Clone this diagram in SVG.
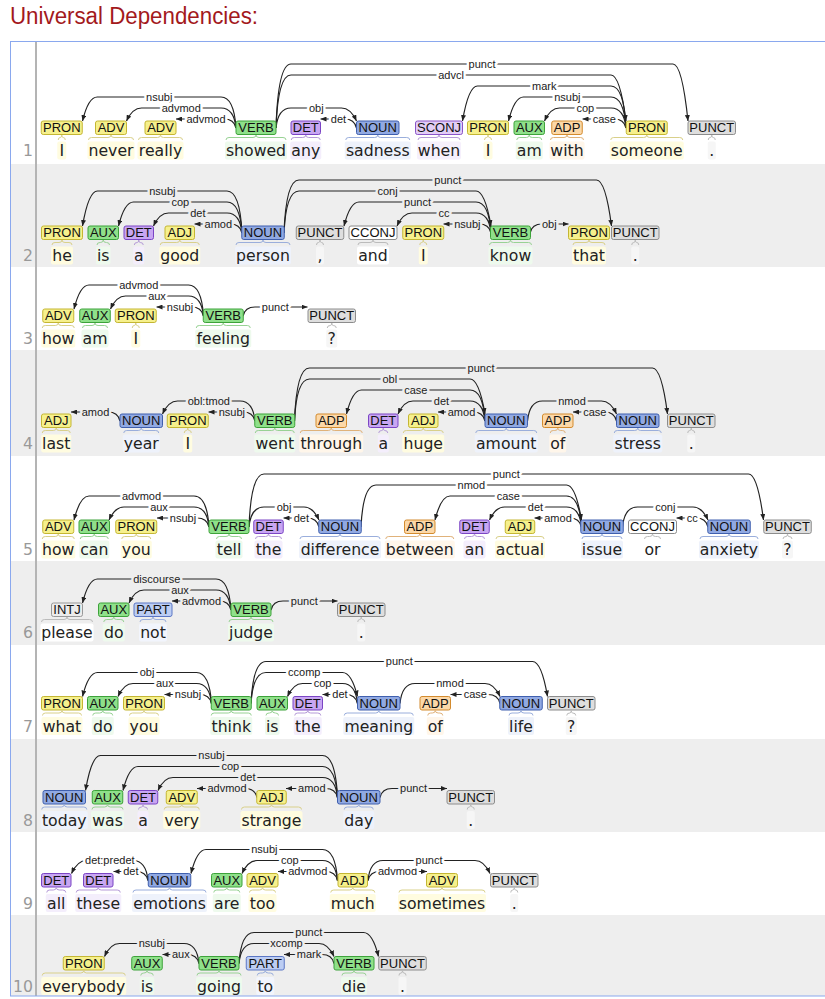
<svg xmlns="http://www.w3.org/2000/svg" width="825" height="999" viewBox="0 0 825 999">
<defs>
<style>
text{font-family:"Liberation Sans",Arial,sans-serif}
.title{font-size:23px;fill:#a3191c}
.wd,.ln{font-family:"DejaVu Sans","Liberation Sans",sans-serif;font-size:15.7px;text-anchor:middle;fill:#222}
.ln{text-anchor:end;fill:#999}
.tl{font-size:13px;text-anchor:middle;fill:#111}
.tag{stroke-width:1}
.br{fill:none;stroke-width:1}
.arcs path{fill:none;stroke:#222;stroke-width:1.2;marker-end:url(#ah)}
.al{font-size:11px;text-anchor:middle;fill:#222;stroke-width:5;stroke-linejoin:round;paint-order:stroke}
.aw .al{stroke:#fff}
.ag .al{stroke:#eee}
.ty .tag{fill:#f6f08c;stroke:#c4b633}.ty .wb{fill:#fffce0}.ty .br{stroke:#d9d08a}
.tg .tag{fill:#8fe08a;stroke:#3da23a}.tg .wb{fill:#eefaed}.tg .br{stroke:#98d294}
.tp .tag{fill:#c8a6f2;stroke:#7b45c4}.tp .wb{fill:#f4eefc}.tp .br{stroke:#b59ad8}
.ts .tag{fill:#e2cdf6;stroke:#8a55c8}.ts .wb{fill:#f6f0fc}.ts .br{stroke:#b59ad8}
.tb .tag{fill:#91a9e2;stroke:#3f5fae}.tb .wb{fill:#eef2fb}.tb .br{stroke:#9aaedc}
.to .tag{fill:#fcd8a8;stroke:#d38b2e}.to .wb{fill:#fff6ea}.to .br{stroke:#e0b27a}
.tk .tag{fill:#dedede;stroke:#8c8c8c}.tk .wb{fill:#f6f6f6}.tk .br{stroke:#bbb}
.tc .tag{fill:#fff;stroke:#8c8c8c}.tc .wb{fill:#fff}.tc .br{stroke:#bbb}
.ti .tag{fill:#ececec;stroke:#999}.ti .wb{fill:#fff}.ti .br{stroke:#bbb}
.tt .tag{fill:#bccdf3;stroke:#5b76c4}.tt .wb{fill:#f2f5fd}.tt .br{stroke:#9aaedc}
</style>
<marker id="ah" viewBox="0 0 6 5" refX="6" refY="2.5" markerWidth="6" markerHeight="5" markerUnits="userSpaceOnUse" orient="auto"><path d="M0,0L6,2.5L0,5Z" fill="#222"/></marker>
</defs>
<rect width="825" height="999" fill="#fff"/>
<text class="title" x="10" y="24" textLength="248" lengthAdjust="spacingAndGlyphs">Universal Dependencies:</text>
<g id="row-bands" fill="#eee">
<rect x="11" y="164" width="814" height="103"/>
<rect x="11" y="350" width="814" height="106"/>
<rect x="11" y="561" width="814" height="84"/>
<rect x="11" y="739" width="814" height="93"/>
<rect x="11" y="915" width="814" height="81"/>
</g>

<!-- dependency arcs -->
<g id="arcs-1" class="arcs aw">
<path d="M236,128Q234,97 221,97L97.3,97Q88.3,97 82.5,121"/><text class="al" x="159.2" y="100.5">nsubj</text>
<path d="M236,128Q234,108 221,108L141.5,108Q132.5,108 126.5,121"/><text class="al" x="181.3" y="111.5">advmod</text>
<path d="M236,128Q234,119 224,119L176,119"/><text class="al" x="206" y="122.5">advmod</text>
<path d="M276,128Q278,108 291,108L341.5,108Q350.5,108 356.5,121"/><text class="al" x="316.3" y="111.5">obj</text>
<path d="M356.5,128Q354.5,119 344.5,119L320.5,119"/><text class="al" x="338.5" y="122.5">det</text>
<path d="M276,128Q278,64 291,64L673,64Q682,64 688,121"/><text class="al" x="482" y="67.5">punct</text>
<path d="M276,128Q278,75 291,75L611,75Q620,75 626,121"/><text class="al" x="451" y="78.5">advcl</text>
<path d="M626,128Q624,86 611,86L477.5,86Q468.5,86 462.5,121"/><text class="al" x="544.3" y="89.5">mark</text>
<path d="M626,128Q624,97 611,97L523.5,97Q514.5,97 508.5,121"/><text class="al" x="567.3" y="100.5">nsubj</text>
<path d="M626,128Q624,108 611,108L559.5,108Q550.5,108 544.5,121"/><text class="al" x="585.3" y="111.5">cop</text>
<path d="M626,128Q624,119 614,119L582.5,119"/><text class="al" x="604.3" y="122.5">case</text>
</g>
<g id="arcs-2" class="arcs ag">
<path d="M242,233Q240,191 227,191L97.5,191Q88.5,191 82.5,226"/><text class="al" x="162.3" y="194.5">nsubj</text>
<path d="M242,233Q240,202 227,202L133.5,202Q124.5,202 118.5,226"/><text class="al" x="180.3" y="205.5">cop</text>
<path d="M242,233Q240,213 227,213L168.5,213Q159.5,213 153.5,226"/><text class="al" x="197.8" y="216.5">det</text>
<path d="M242,233Q240,224 230,224L194.5,224"/><text class="al" x="218.3" y="227.5">amod</text>
<path d="M284,233Q286,180 299,180L596.5,180Q605.5,180 611.5,226"/><text class="al" x="447.8" y="183.5">punct</text>
<path d="M284,233Q286,191 299,191L476,191Q485,191 491,226"/><text class="al" x="387.5" y="194.5">conj</text>
<path d="M491,233Q489,202 476,202L359,202Q350,202 344,226"/><text class="al" x="417.5" y="205.5">punct</text>
<path d="M491,233Q489,213 476,213L412,213Q403,213 397,226"/><text class="al" x="444" y="216.5">cc</text>
<path d="M491,233Q489,224 479,224L443.5,224"/><text class="al" x="467.3" y="227.5">nsubj</text>
<path d="M530,233Q532,224 542,224L568.5,224"/><text class="al" x="549.3" y="227.5">obj</text>
</g>
<g id="arcs-3" class="arcs aw">
<path d="M203.5,316Q201.5,285 188.5,285L89,285Q80,285 74,309"/><text class="al" x="138.8" y="288.5">advmod</text>
<path d="M203.5,316Q201.5,296 188.5,296L125.5,296Q116.5,296 110.5,309"/><text class="al" x="157" y="299.5">aux</text>
<path d="M203.5,316Q201.5,307 191.5,307L156.5,307"/><text class="al" x="180" y="310.5">nsubj</text>
<path d="M243,316Q245,307 255,307L307.5,307"/><text class="al" x="275.3" y="310.5">punct</text>
</g>
<g id="arcs-4" class="arcs ag">
<path d="M120,421Q118,412 108,412L71,412"/><text class="al" x="95.5" y="415.5">amod</text>
<path d="M255,421Q253,401 240,401L177.5,401Q168.5,401 162.5,414"/><text class="al" x="208.8" y="404.5">obl:tmod</text>
<path d="M255,421Q253,412 243,412L208.5,412"/><text class="al" x="231.8" y="415.5">nsubj</text>
<path d="M294.5,421Q296.5,368 309.5,368L652.5,368Q661.5,368 667.5,414"/><text class="al" x="481" y="371.5">punct</text>
<path d="M294.5,421Q296.5,379 309.5,379L470,379Q479,379 485,414"/><text class="al" x="389.8" y="382.5">obl</text>
<path d="M485,421Q483,390 470,390L361.5,390Q352.5,390 346.5,414"/><text class="al" x="415.8" y="393.5">case</text>
<path d="M485,421Q483,401 470,401L413,401Q404,401 398,414"/><text class="al" x="441.5" y="404.5">det</text>
<path d="M485,421Q483,412 473,412L438,412"/><text class="al" x="461.5" y="415.5">amod</text>
<path d="M527.5,421Q529.5,401 542.5,401L601.5,401Q610.5,401 616.5,414"/><text class="al" x="572" y="404.5">nmod</text>
<path d="M616.5,421Q614.5,412 604.5,412L573,412"/><text class="al" x="594.8" y="415.5">case</text>
</g>
<g id="arcs-5" class="arcs aw">
<path d="M209,527Q207,496 194,496L89,496Q80,496 74,520"/><text class="al" x="141.5" y="499.5">advmod</text>
<path d="M209,527Q207,507 194,507L124,507Q115,507 109,520"/><text class="al" x="159" y="510.5">aux</text>
<path d="M209,527Q207,518 197,518L157,518"/><text class="al" x="183" y="521.5">nsubj</text>
<path d="M249,527Q251,507 264,507L304,507Q313,507 319,520"/><text class="al" x="284" y="510.5">obj</text>
<path d="M319,527Q317,518 307,518L283.5,518"/><text class="al" x="301.3" y="521.5">det</text>
<path d="M249,527Q251,474 264,474L748.5,474Q757.5,474 763.5,520"/><text class="al" x="506.3" y="477.5">punct</text>
<path d="M361,527Q363,485 376,485L566.5,485Q575.5,485 581.5,520"/><text class="al" x="471.3" y="488.5">nmod</text>
<path d="M581.5,527Q579.5,496 566.5,496L450,496Q441,496 435,520"/><text class="al" x="508.3" y="499.5">case</text>
<path d="M581.5,527Q579.5,507 566.5,507L504.5,507Q495.5,507 489.5,520"/><text class="al" x="535.5" y="510.5">det</text>
<path d="M581.5,527Q579.5,518 569.5,518L534.5,518"/><text class="al" x="558" y="521.5">amod</text>
<path d="M622.5,527Q624.5,507 637.5,507L693,507Q702,507 708,520"/><text class="al" x="665.3" y="510.5">conj</text>
<path d="M708,527Q706,518 696,518L676.5,518"/><text class="al" x="692.3" y="521.5">cc</text>
</g>
<g id="arcs-6" class="arcs ag">
<path d="M231,610Q229,579 216,579L97.5,579Q88.5,579 82.5,603"/><text class="al" x="156.8" y="582.5">discourse</text>
<path d="M231,610Q229,590 216,590L144,590Q135,590 129,603"/><text class="al" x="180" y="593.5">aux</text>
<path d="M231,610Q229,601 219,601L172,601"/><text class="al" x="201.5" y="604.5">advmod</text>
<path d="M271,610Q273,601 283,601L337.5,601"/><text class="al" x="304.3" y="604.5">punct</text>
</g>
<g id="arcs-7" class="arcs aw">
<path d="M211.5,703.5Q209.5,672.5 196.5,672.5L97.5,672.5Q88.5,672.5 82.5,696.5"/><text class="al" x="147" y="676">obj</text>
<path d="M211.5,703.5Q209.5,683.5 196.5,683.5L133,683.5Q124,683.5 118,696.5"/><text class="al" x="164.8" y="687">aux</text>
<path d="M211.5,703.5Q209.5,694.5 199.5,694.5L164.5,694.5"/><text class="al" x="188" y="698">nsubj</text>
<path d="M251,703.5Q253,661.5 266,661.5L532.5,661.5Q541.5,661.5 547.5,696.5"/><text class="al" x="399.3" y="665">punct</text>
<path d="M251,703.5Q253,672.5 266,672.5L342.5,672.5Q351.5,672.5 357.5,696.5"/><text class="al" x="304.3" y="676">ccomp</text>
<path d="M357.5,703.5Q355.5,683.5 342.5,683.5L302.5,683.5Q293.5,683.5 287.5,696.5"/><text class="al" x="322.5" y="687">cop</text>
<path d="M357.5,703.5Q355.5,694.5 345.5,694.5L322.5,694.5"/><text class="al" x="340" y="698">det</text>
<path d="M400,703.5Q402,683.5 415,683.5L485,683.5Q494,683.5 500,696.5"/><text class="al" x="450" y="687">nmod</text>
<path d="M500,703.5Q498,694.5 488,694.5L450.5,694.5"/><text class="al" x="475.3" y="698">case</text>
</g>
<g id="arcs-8" class="arcs ag">
<path d="M337.5,797.5Q335.5,755.5 322.5,755.5L100.5,755.5Q91.5,755.5 85.5,790.5"/><text class="al" x="211.5" y="759">nsubj</text>
<path d="M337.5,797.5Q335.5,766.5 322.5,766.5L138,766.5Q129,766.5 123,790.5"/><text class="al" x="230.3" y="770">cop</text>
<path d="M337.5,797.5Q335.5,777.5 322.5,777.5L173,777.5Q164,777.5 158,790.5"/><text class="al" x="247.8" y="781">det</text>
<path d="M337.5,797.5Q335.5,788.5 325.5,788.5L286,788.5"/><text class="al" x="311.8" y="792">amod</text>
<path d="M257,797.5Q255,788.5 245,788.5L197,788.5"/><text class="al" x="227" y="792">advmod</text>
<path d="M380,797.5Q382,788.5 392,788.5L447,788.5"/><text class="al" x="413.5" y="792">punct</text>
</g>
<g id="arcs-9" class="arcs aw">
<path d="M148,880.5Q146,860.5 133,860.5L86.5,860.5Q77.5,860.5 71.5,873.5"/><text class="al" x="109.8" y="864">det:predet</text>
<path d="M148,880.5Q146,871.5 136,871.5L113.5,871.5"/><text class="al" x="130.8" y="875">det</text>
<path d="M337.5,880.5Q335.5,849.5 322.5,849.5L206,849.5Q197,849.5 191,873.5"/><text class="al" x="264.3" y="853">nsubj</text>
<path d="M337.5,880.5Q335.5,860.5 322.5,860.5L257,860.5Q248,860.5 242,873.5"/><text class="al" x="289.8" y="864">cop</text>
<path d="M337.5,880.5Q335.5,871.5 325.5,871.5L278,871.5"/><text class="al" x="307.8" y="875">advmod</text>
<path d="M368,880.5Q370,871.5 380,871.5L427,871.5"/><text class="al" x="397.5" y="875">advmod</text>
<path d="M368,880.5Q370,860.5 383,860.5L475,860.5Q484,860.5 490,873.5"/><text class="al" x="429" y="864">punct</text>
</g>
<g id="arcs-10" class="arcs ag">
<path d="M199,963.5Q197,943.5 184,943.5L119.5,943.5Q110.5,943.5 104.5,956.5"/><text class="al" x="151.8" y="947">nsubj</text>
<path d="M199,963.5Q197,954.5 187,954.5L162.5,954.5"/><text class="al" x="180.8" y="958">aux</text>
<path d="M239,963.5Q241,932.5 254,932.5L363.5,932.5Q372.5,932.5 378.5,956.5"/><text class="al" x="308.8" y="936">punct</text>
<path d="M239,963.5Q241,943.5 254,943.5L319,943.5Q328,943.5 334,956.5"/><text class="al" x="286.5" y="947">xcomp</text>
<path d="M334,963.5Q332,954.5 322,954.5L284,954.5"/><text class="al" x="309" y="958">mark</text>
</g>

<!-- sentence 1 -->
<g id="s1-w1" class="ty" transform="translate(61.75,121)"><rect class="wb" x="-4.5" y="20.5" width="9" height="18" rx="2"/><rect class="tag" x="-20.5" width="41" height="13.5" rx="2"/><text class="tl" y="11.3">PRON</text><path class="br" d="M-3.5,19q0,-2.5 2,-2.5q1.5,0 1.5,-2.5q0,2.5 1.5,2.5q2,0 2,2.5"/><text class="wd" y="35">I</text></g>
<g id="s1-w2" class="ty" transform="translate(111,121)"><rect class="wb" x="-23.5" y="20.5" width="47" height="18" rx="2"/><rect class="tag" x="-15.5" width="31" height="13.5" rx="2"/><text class="tl" y="11.3">ADV</text><path class="br" d="M-22.5,19q0,-2.5 3,-2.5H-3q3,0 3,-2.5q0,2.5 3,2.5H19.5q3,0 3,2.5"/><text class="wd" y="35">never</text></g>
<g id="s1-w3" class="ty" transform="translate(160.5,121)"><rect class="wb" x="-23" y="20.5" width="46" height="18" rx="2"/><rect class="tag" x="-15.5" width="31" height="13.5" rx="2"/><text class="tl" y="11.3">ADV</text><path class="br" d="M-22,19q0,-2.5 3,-2.5H-3q3,0 3,-2.5q0,2.5 3,2.5H19q3,0 3,2.5"/><text class="wd" y="35">really</text></g>
<g id="s1-w4" class="tg" transform="translate(256,121)"><rect class="wb" x="-31" y="20.5" width="62" height="18" rx="2"/><rect class="tag" x="-20" width="40" height="13.5" rx="2"/><text class="tl" y="11.3">VERB</text><path class="br" d="M-30,19q0,-2.5 3,-2.5H-3q3,0 3,-2.5q0,2.5 3,2.5H27q3,0 3,2.5"/><text class="wd" y="35">showed</text></g>
<g id="s1-w5" class="tp" transform="translate(305.75,121)"><rect class="wb" x="-15.5" y="20.5" width="31" height="18" rx="2"/><rect class="tag" x="-14.75" width="29.5" height="13.5" rx="2"/><text class="tl" y="11.3">DET</text><path class="br" d="M-14.5,19q0,-2.5 3,-2.5H-3q3,0 3,-2.5q0,2.5 3,2.5H11.5q3,0 3,2.5"/><text class="wd" y="35">any</text></g>
<g id="s1-w6" class="tb" transform="translate(377.75,121)"><rect class="wb" x="-33" y="20.5" width="66" height="18" rx="2"/><rect class="tag" x="-21.25" width="42.5" height="13.5" rx="2"/><text class="tl" y="11.3">NOUN</text><path class="br" d="M-32,19q0,-2.5 3,-2.5H-3q3,0 3,-2.5q0,2.5 3,2.5H29q3,0 3,2.5"/><text class="wd" y="35">sadness</text></g>
<g id="s1-w7" class="ts" transform="translate(439,121)"><rect class="wb" x="-22" y="20.5" width="44" height="18" rx="2"/><rect class="tag" x="-23.5" width="47" height="13.5" rx="2"/><text class="tl" y="11.3">SCONJ</text><path class="br" d="M-21,19q0,-2.5 3,-2.5H-3q3,0 3,-2.5q0,2.5 3,2.5H18q3,0 3,2.5"/><text class="wd" y="35">when</text></g>
<g id="s1-w8" class="ty" transform="translate(488,121)"><rect class="wb" x="-4.5" y="20.5" width="9" height="18" rx="2"/><rect class="tag" x="-20.5" width="41" height="13.5" rx="2"/><text class="tl" y="11.3">PRON</text><path class="br" d="M-3.5,19q0,-2.5 2,-2.5q1.5,0 1.5,-2.5q0,2.5 1.5,2.5q2,0 2,2.5"/><text class="wd" y="35">I</text></g>
<g id="s1-w9" class="tg" transform="translate(529.25,121)"><rect class="wb" x="-13.5" y="20.5" width="27" height="18" rx="2"/><rect class="tag" x="-15.25" width="30.5" height="13.5" rx="2"/><text class="tl" y="11.3">AUX</text><path class="br" d="M-12.5,19q0,-2.5 3,-2.5H-3q3,0 3,-2.5q0,2.5 3,2.5H9.5q3,0 3,2.5"/><text class="wd" y="35">am</text></g>
<g id="s1-w10" class="to" transform="translate(567,121)"><rect class="wb" x="-17.5" y="20.5" width="35" height="18" rx="2"/><rect class="tag" x="-15.25" width="30.5" height="13.5" rx="2"/><text class="tl" y="11.3">ADP</text><path class="br" d="M-16.5,19q0,-2.5 3,-2.5H-3q3,0 3,-2.5q0,2.5 3,2.5H13.5q3,0 3,2.5"/><text class="wd" y="35">with</text></g>
<g id="s1-w11" class="ty" transform="translate(646.75,121)"><rect class="wb" x="-37" y="20.5" width="74" height="18" rx="2"/><rect class="tag" x="-20.5" width="41" height="13.5" rx="2"/><text class="tl" y="11.3">PRON</text><path class="br" d="M-36,19q0,-2.5 3,-2.5H-3q3,0 3,-2.5q0,2.5 3,2.5H33q3,0 3,2.5"/><text class="wd" y="35">someone</text></g>
<g id="s1-w12" class="tk" transform="translate(711.75,121)"><rect class="wb" x="-4" y="20.5" width="8" height="18" rx="2"/><rect class="tag" x="-23.75" width="47.5" height="13.5" rx="2"/><text class="tl" y="11.3">PUNCT</text><path class="br" d="M-3.5,19q0,-2.5 2,-2.5q1.5,0 1.5,-2.5q0,2.5 1.5,2.5q2,0 2,2.5"/><text class="wd" y="35">.</text></g>

<!-- sentence 2 -->
<g id="s2-w1" class="ty" transform="translate(62,226)"><rect class="wb" x="-11" y="20.5" width="22" height="18" rx="2"/><rect class="tag" x="-20.5" width="41" height="13.5" rx="2"/><text class="tl" y="11.3">PRON</text><path class="br" d="M-10,19q0,-2.5 3,-2.5H-3q3,0 3,-2.5q0,2.5 3,2.5H7q3,0 3,2.5"/><text class="wd" y="35">he</text></g>
<g id="s2-w2" class="tg" transform="translate(103.25,226)"><rect class="wb" x="-7.25" y="20.5" width="14.5" height="18" rx="2"/><rect class="tag" x="-15.25" width="30.5" height="13.5" rx="2"/><text class="tl" y="11.3">AUX</text><path class="br" d="M-6.25,19q0,-2.5 3,-2.5H-3q3,0 3,-2.5q0,2.5 3,2.5H3.25q3,0 3,2.5"/><text class="wd" y="35">is</text></g>
<g id="s2-w3" class="tp" transform="translate(138.75,226)"><rect class="wb" x="-5.5" y="20.5" width="11" height="18" rx="2"/><rect class="tag" x="-14.75" width="29.5" height="13.5" rx="2"/><text class="tl" y="11.3">DET</text><path class="br" d="M-4.5,19q0,-2.5 3,-2.5q1.5,0 1.5,-2.5q0,2.5 1.5,2.5q3,0 3,2.5"/><text class="wd" y="35">a</text></g>
<g id="s2-w4" class="ty" transform="translate(179.75,226)"><rect class="wb" x="-20.5" y="20.5" width="41" height="18" rx="2"/><rect class="tag" x="-14.75" width="29.5" height="13.5" rx="2"/><text class="tl" y="11.3">ADJ</text><path class="br" d="M-19.5,19q0,-2.5 3,-2.5H-3q3,0 3,-2.5q0,2.5 3,2.5H16.5q3,0 3,2.5"/><text class="wd" y="35">good</text></g>
<g id="s2-w5" class="tb" transform="translate(263,226)"><rect class="wb" x="-28" y="20.5" width="56" height="18" rx="2"/><rect class="tag" x="-21.25" width="42.5" height="13.5" rx="2"/><text class="tl" y="11.3">NOUN</text><path class="br" d="M-27,19q0,-2.5 3,-2.5H-3q3,0 3,-2.5q0,2.5 3,2.5H24q3,0 3,2.5"/><text class="wd" y="35">person</text></g>
<g id="s2-w6" class="tk" transform="translate(320,226)"><rect class="wb" x="-4" y="20.5" width="8" height="18" rx="2"/><rect class="tag" x="-23.75" width="47.5" height="13.5" rx="2"/><text class="tl" y="11.3">PUNCT</text><path class="br" d="M-3.5,19q0,-2.5 2,-2.5q1.5,0 1.5,-2.5q0,2.5 1.5,2.5q2,0 2,2.5"/><text class="wd" y="35">,</text></g>
<g id="s2-w7" class="tc" transform="translate(373,226)"><rect class="wb" x="-16" y="20.5" width="32" height="18" rx="2"/><rect class="tag" x="-24" width="48" height="13.5" rx="2"/><text class="tl" y="11.3">CCONJ</text><path class="br" d="M-15,19q0,-2.5 3,-2.5H-3q3,0 3,-2.5q0,2.5 3,2.5H12q3,0 3,2.5"/><text class="wd" y="35">and</text></g>
<g id="s2-w8" class="ty" transform="translate(423.25,226)"><rect class="wb" x="-4.5" y="20.5" width="9" height="18" rx="2"/><rect class="tag" x="-20.5" width="41" height="13.5" rx="2"/><text class="tl" y="11.3">PRON</text><path class="br" d="M-3.5,19q0,-2.5 2,-2.5q1.5,0 1.5,-2.5q0,2.5 1.5,2.5q2,0 2,2.5"/><text class="wd" y="35">I</text></g>
<g id="s2-w9" class="tg" transform="translate(510.5,226)"><rect class="wb" x="-22" y="20.5" width="44" height="18" rx="2"/><rect class="tag" x="-20" width="40" height="13.5" rx="2"/><text class="tl" y="11.3">VERB</text><path class="br" d="M-21,19q0,-2.5 3,-2.5H-3q3,0 3,-2.5q0,2.5 3,2.5H18q3,0 3,2.5"/><text class="wd" y="35">know</text></g>
<g id="s2-w10" class="ty" transform="translate(589,226)"><rect class="wb" x="-17" y="20.5" width="34" height="18" rx="2"/><rect class="tag" x="-20.5" width="41" height="13.5" rx="2"/><text class="tl" y="11.3">PRON</text><path class="br" d="M-16,19q0,-2.5 3,-2.5H-3q3,0 3,-2.5q0,2.5 3,2.5H13q3,0 3,2.5"/><text class="wd" y="35">that</text></g>
<g id="s2-w11" class="tk" transform="translate(635.25,226)"><rect class="wb" x="-4" y="20.5" width="8" height="18" rx="2"/><rect class="tag" x="-23.75" width="47.5" height="13.5" rx="2"/><text class="tl" y="11.3">PUNCT</text><path class="br" d="M-3.5,19q0,-2.5 2,-2.5q1.5,0 1.5,-2.5q0,2.5 1.5,2.5q2,0 2,2.5"/><text class="wd" y="35">.</text></g>

<!-- sentence 3 -->
<g id="s3-w1" class="ty" transform="translate(58.25,309)"><rect class="wb" x="-17" y="20.5" width="34" height="18" rx="2"/><rect class="tag" x="-15.5" width="31" height="13.5" rx="2"/><text class="tl" y="11.3">ADV</text><path class="br" d="M-16,19q0,-2.5 3,-2.5H-3q3,0 3,-2.5q0,2.5 3,2.5H13q3,0 3,2.5"/><text class="wd" y="35">how</text></g>
<g id="s3-w2" class="tg" transform="translate(95,309)"><rect class="wb" x="-13.5" y="20.5" width="27" height="18" rx="2"/><rect class="tag" x="-15.25" width="30.5" height="13.5" rx="2"/><text class="tl" y="11.3">AUX</text><path class="br" d="M-12.5,19q0,-2.5 3,-2.5H-3q3,0 3,-2.5q0,2.5 3,2.5H9.5q3,0 3,2.5"/><text class="wd" y="35">am</text></g>
<g id="s3-w3" class="ty" transform="translate(135.75,309)"><rect class="wb" x="-4.5" y="20.5" width="9" height="18" rx="2"/><rect class="tag" x="-20.5" width="41" height="13.5" rx="2"/><text class="tl" y="11.3">PRON</text><path class="br" d="M-3.5,19q0,-2.5 2,-2.5q1.5,0 1.5,-2.5q0,2.5 1.5,2.5q2,0 2,2.5"/><text class="wd" y="35">I</text></g>
<g id="s3-w4" class="tg" transform="translate(223.25,309)"><rect class="wb" x="-28" y="20.5" width="56" height="18" rx="2"/><rect class="tag" x="-20" width="40" height="13.5" rx="2"/><text class="tl" y="11.3">VERB</text><path class="br" d="M-27,19q0,-2.5 3,-2.5H-3q3,0 3,-2.5q0,2.5 3,2.5H24q3,0 3,2.5"/><text class="wd" y="35">feeling</text></g>
<g id="s3-w5" class="tk" transform="translate(331.75,309)"><rect class="wb" x="-5.5" y="20.5" width="11" height="18" rx="2"/><rect class="tag" x="-23.75" width="47.5" height="13.5" rx="2"/><text class="tl" y="11.3">PUNCT</text><path class="br" d="M-4.5,19q0,-2.5 3,-2.5q1.5,0 1.5,-2.5q0,2.5 1.5,2.5q3,0 3,2.5"/><text class="wd" y="35">?</text></g>

<!-- sentence 4 -->
<g id="s4-w1" class="ty" transform="translate(56.25,414)"><rect class="wb" x="-15" y="20.5" width="30" height="18" rx="2"/><rect class="tag" x="-14.75" width="29.5" height="13.5" rx="2"/><text class="tl" y="11.3">ADJ</text><path class="br" d="M-14,19q0,-2.5 3,-2.5H-3q3,0 3,-2.5q0,2.5 3,2.5H11q3,0 3,2.5"/><text class="wd" y="35">last</text></g>
<g id="s4-w2" class="tb" transform="translate(141.25,414)"><rect class="wb" x="-18.5" y="20.5" width="37" height="18" rx="2"/><rect class="tag" x="-21.25" width="42.5" height="13.5" rx="2"/><text class="tl" y="11.3">NOUN</text><path class="br" d="M-17.5,19q0,-2.5 3,-2.5H-3q3,0 3,-2.5q0,2.5 3,2.5H14.5q3,0 3,2.5"/><text class="wd" y="35">year</text></g>
<g id="s4-w3" class="ty" transform="translate(187.75,414)"><rect class="wb" x="-4.5" y="20.5" width="9" height="18" rx="2"/><rect class="tag" x="-20.5" width="41" height="13.5" rx="2"/><text class="tl" y="11.3">PRON</text><path class="br" d="M-3.5,19q0,-2.5 2,-2.5q1.5,0 1.5,-2.5q0,2.5 1.5,2.5q2,0 2,2.5"/><text class="wd" y="35">I</text></g>
<g id="s4-w4" class="tg" transform="translate(274.75,414)"><rect class="wb" x="-20.5" y="20.5" width="41" height="18" rx="2"/><rect class="tag" x="-20" width="40" height="13.5" rx="2"/><text class="tl" y="11.3">VERB</text><path class="br" d="M-19.5,19q0,-2.5 3,-2.5H-3q3,0 3,-2.5q0,2.5 3,2.5H16.5q3,0 3,2.5"/><text class="wd" y="35">went</text></g>
<g id="s4-w5" class="to" transform="translate(331.25,414)"><rect class="wb" x="-32" y="20.5" width="64" height="18" rx="2"/><rect class="tag" x="-15.25" width="30.5" height="13.5" rx="2"/><text class="tl" y="11.3">ADP</text><path class="br" d="M-31,19q0,-2.5 3,-2.5H-3q3,0 3,-2.5q0,2.5 3,2.5H28q3,0 3,2.5"/><text class="wd" y="35">through</text></g>
<g id="s4-w6" class="tp" transform="translate(383.25,414)"><rect class="wb" x="-5.5" y="20.5" width="11" height="18" rx="2"/><rect class="tag" x="-14.75" width="29.5" height="13.5" rx="2"/><text class="tl" y="11.3">DET</text><path class="br" d="M-4.5,19q0,-2.5 3,-2.5q1.5,0 1.5,-2.5q0,2.5 1.5,2.5q3,0 3,2.5"/><text class="wd" y="35">a</text></g>
<g id="s4-w7" class="ty" transform="translate(423.25,414)"><rect class="wb" x="-21" y="20.5" width="42" height="18" rx="2"/><rect class="tag" x="-14.75" width="29.5" height="13.5" rx="2"/><text class="tl" y="11.3">ADJ</text><path class="br" d="M-20,19q0,-2.5 3,-2.5H-3q3,0 3,-2.5q0,2.5 3,2.5H17q3,0 3,2.5"/><text class="wd" y="35">huge</text></g>
<g id="s4-w8" class="tb" transform="translate(506.25,414)"><rect class="wb" x="-31.5" y="20.5" width="63" height="18" rx="2"/><rect class="tag" x="-21.25" width="42.5" height="13.5" rx="2"/><text class="tl" y="11.3">NOUN</text><path class="br" d="M-30.5,19q0,-2.5 3,-2.5H-3q3,0 3,-2.5q0,2.5 3,2.5H27.5q3,0 3,2.5"/><text class="wd" y="35">amount</text></g>
<g id="s4-w9" class="to" transform="translate(557.75,414)"><rect class="wb" x="-8.5" y="20.5" width="17" height="18" rx="2"/><rect class="tag" x="-15.25" width="30.5" height="13.5" rx="2"/><text class="tl" y="11.3">ADP</text><path class="br" d="M-7.5,19q0,-2.5 3,-2.5H-3q3,0 3,-2.5q0,2.5 3,2.5H4.5q3,0 3,2.5"/><text class="wd" y="35">of</text></g>
<g id="s4-w10" class="tb" transform="translate(637.75,414)"><rect class="wb" x="-24.5" y="20.5" width="49" height="18" rx="2"/><rect class="tag" x="-21.25" width="42.5" height="13.5" rx="2"/><text class="tl" y="11.3">NOUN</text><path class="br" d="M-23.5,19q0,-2.5 3,-2.5H-3q3,0 3,-2.5q0,2.5 3,2.5H20.5q3,0 3,2.5"/><text class="wd" y="35">stress</text></g>
<g id="s4-w11" class="tk" transform="translate(691.25,414)"><rect class="wb" x="-4" y="20.5" width="8" height="18" rx="2"/><rect class="tag" x="-23.75" width="47.5" height="13.5" rx="2"/><text class="tl" y="11.3">PUNCT</text><path class="br" d="M-3.5,19q0,-2.5 2,-2.5q1.5,0 1.5,-2.5q0,2.5 1.5,2.5q2,0 2,2.5"/><text class="wd" y="35">.</text></g>

<!-- sentence 5 -->
<g id="s5-w1" class="ty" transform="translate(58.25,520)"><rect class="wb" x="-17" y="20.5" width="34" height="18" rx="2"/><rect class="tag" x="-15.5" width="31" height="13.5" rx="2"/><text class="tl" y="11.3">ADV</text><path class="br" d="M-16,19q0,-2.5 3,-2.5H-3q3,0 3,-2.5q0,2.5 3,2.5H13q3,0 3,2.5"/><text class="wd" y="35">how</text></g>
<g id="s5-w2" class="tg" transform="translate(94.25,520)"><rect class="wb" x="-15" y="20.5" width="30" height="18" rx="2"/><rect class="tag" x="-15.25" width="30.5" height="13.5" rx="2"/><text class="tl" y="11.3">AUX</text><path class="br" d="M-14,19q0,-2.5 3,-2.5H-3q3,0 3,-2.5q0,2.5 3,2.5H11q3,0 3,2.5"/><text class="wd" y="35">can</text></g>
<g id="s5-w3" class="ty" transform="translate(136.25,520)"><rect class="wb" x="-15.5" y="20.5" width="31" height="18" rx="2"/><rect class="tag" x="-20.5" width="41" height="13.5" rx="2"/><text class="tl" y="11.3">PRON</text><path class="br" d="M-14.5,19q0,-2.5 3,-2.5H-3q3,0 3,-2.5q0,2.5 3,2.5H11.5q3,0 3,2.5"/><text class="wd" y="35">you</text></g>
<g id="s5-w4" class="tg" transform="translate(229,520)"><rect class="wb" x="-13.5" y="20.5" width="27" height="18" rx="2"/><rect class="tag" x="-20" width="40" height="13.5" rx="2"/><text class="tl" y="11.3">VERB</text><path class="br" d="M-12.5,19q0,-2.5 3,-2.5H-3q3,0 3,-2.5q0,2.5 3,2.5H9.5q3,0 3,2.5"/><text class="wd" y="35">tell</text></g>
<g id="s5-w5" class="tp" transform="translate(268.5,520)"><rect class="wb" x="-14" y="20.5" width="28" height="18" rx="2"/><rect class="tag" x="-14.75" width="29.5" height="13.5" rx="2"/><text class="tl" y="11.3">DET</text><path class="br" d="M-13,19q0,-2.5 3,-2.5H-3q3,0 3,-2.5q0,2.5 3,2.5H10q3,0 3,2.5"/><text class="wd" y="35">the</text></g>
<g id="s5-w6" class="tb" transform="translate(340,520)"><rect class="wb" x="-41" y="20.5" width="82" height="18" rx="2"/><rect class="tag" x="-21.25" width="42.5" height="13.5" rx="2"/><text class="tl" y="11.3">NOUN</text><path class="br" d="M-40,19q0,-2.5 3,-2.5H-3q3,0 3,-2.5q0,2.5 3,2.5H37q3,0 3,2.5"/><text class="wd" y="35">difference</text></g>
<g id="s5-w7" class="to" transform="translate(419.75,520)"><rect class="wb" x="-35" y="20.5" width="70" height="18" rx="2"/><rect class="tag" x="-15.25" width="30.5" height="13.5" rx="2"/><text class="tl" y="11.3">ADP</text><path class="br" d="M-34,19q0,-2.5 3,-2.5H-3q3,0 3,-2.5q0,2.5 3,2.5H31q3,0 3,2.5"/><text class="wd" y="35">between</text></g>
<g id="s5-w8" class="tp" transform="translate(474.5,520)"><rect class="wb" x="-11" y="20.5" width="22" height="18" rx="2"/><rect class="tag" x="-14.75" width="29.5" height="13.5" rx="2"/><text class="tl" y="11.3">DET</text><path class="br" d="M-10,19q0,-2.5 3,-2.5H-3q3,0 3,-2.5q0,2.5 3,2.5H7q3,0 3,2.5"/><text class="wd" y="35">an</text></g>
<g id="s5-w9" class="ty" transform="translate(520,520)"><rect class="wb" x="-25" y="20.5" width="50" height="18" rx="2"/><rect class="tag" x="-14.75" width="29.5" height="13.5" rx="2"/><text class="tl" y="11.3">ADJ</text><path class="br" d="M-24,19q0,-2.5 3,-2.5H-3q3,0 3,-2.5q0,2.5 3,2.5H21q3,0 3,2.5"/><text class="wd" y="35">actual</text></g>
<g id="s5-w10" class="tb" transform="translate(602,520)"><rect class="wb" x="-21" y="20.5" width="42" height="18" rx="2"/><rect class="tag" x="-21.25" width="42.5" height="13.5" rx="2"/><text class="tl" y="11.3">NOUN</text><path class="br" d="M-20,19q0,-2.5 3,-2.5H-3q3,0 3,-2.5q0,2.5 3,2.5H17q3,0 3,2.5"/><text class="wd" y="35">issue</text></g>
<g id="s5-w11" class="tc" transform="translate(652.5,520)"><rect class="wb" x="-9" y="20.5" width="18" height="18" rx="2"/><rect class="tag" x="-24" width="48" height="13.5" rx="2"/><text class="tl" y="11.3">CCONJ</text><path class="br" d="M-8,19q0,-2.5 3,-2.5H-3q3,0 3,-2.5q0,2.5 3,2.5H5q3,0 3,2.5"/><text class="wd" y="35">or</text></g>
<g id="s5-w12" class="tb" transform="translate(729,520)"><rect class="wb" x="-30" y="20.5" width="60" height="18" rx="2"/><rect class="tag" x="-21.25" width="42.5" height="13.5" rx="2"/><text class="tl" y="11.3">NOUN</text><path class="br" d="M-29,19q0,-2.5 3,-2.5H-3q3,0 3,-2.5q0,2.5 3,2.5H26q3,0 3,2.5"/><text class="wd" y="35">anxiety</text></g>
<g id="s5-w13" class="tk" transform="translate(787.5,520)"><rect class="wb" x="-5.5" y="20.5" width="11" height="18" rx="2"/><rect class="tag" x="-23.75" width="47.5" height="13.5" rx="2"/><text class="tl" y="11.3">PUNCT</text><path class="br" d="M-4.5,19q0,-2.5 3,-2.5q1.5,0 1.5,-2.5q0,2.5 1.5,2.5q3,0 3,2.5"/><text class="wd" y="35">?</text></g>

<!-- sentence 6 -->
<g id="s6-w1" class="ti" transform="translate(67,603)"><rect class="wb" x="-26.5" y="20.5" width="53" height="18" rx="2"/><rect class="tag" x="-15.5" width="31" height="13.5" rx="2"/><text class="tl" y="11.3">INTJ</text><path class="br" d="M-25.5,19q0,-2.5 3,-2.5H-3q3,0 3,-2.5q0,2.5 3,2.5H22.5q3,0 3,2.5"/><text class="wd" y="35">please</text></g>
<g id="s6-w2" class="tg" transform="translate(113.75,603)"><rect class="wb" x="-11" y="20.5" width="22" height="18" rx="2"/><rect class="tag" x="-15.25" width="30.5" height="13.5" rx="2"/><text class="tl" y="11.3">AUX</text><path class="br" d="M-10,19q0,-2.5 3,-2.5H-3q3,0 3,-2.5q0,2.5 3,2.5H7q3,0 3,2.5"/><text class="wd" y="35">do</text></g>
<g id="s6-w3" class="tt" transform="translate(153,603)"><rect class="wb" x="-14" y="20.5" width="28" height="18" rx="2"/><rect class="tag" x="-19" width="38" height="13.5" rx="2"/><text class="tl" y="11.3">PART</text><path class="br" d="M-13,19q0,-2.5 3,-2.5H-3q3,0 3,-2.5q0,2.5 3,2.5H10q3,0 3,2.5"/><text class="wd" y="35">not</text></g>
<g id="s6-w4" class="tg" transform="translate(251,603)"><rect class="wb" x="-23" y="20.5" width="46" height="18" rx="2"/><rect class="tag" x="-20" width="40" height="13.5" rx="2"/><text class="tl" y="11.3">VERB</text><path class="br" d="M-22,19q0,-2.5 3,-2.5H-3q3,0 3,-2.5q0,2.5 3,2.5H19q3,0 3,2.5"/><text class="wd" y="35">judge</text></g>
<g id="s6-w5" class="tk" transform="translate(361.25,603)"><rect class="wb" x="-4" y="20.5" width="8" height="18" rx="2"/><rect class="tag" x="-23.75" width="47.5" height="13.5" rx="2"/><text class="tl" y="11.3">PUNCT</text><path class="br" d="M-3.5,19q0,-2.5 2,-2.5q1.5,0 1.5,-2.5q0,2.5 1.5,2.5q2,0 2,2.5"/><text class="wd" y="35">.</text></g>

<!-- sentence 7 -->
<g id="s7-w1" class="ty" transform="translate(62,696.5)"><rect class="wb" x="-20.5" y="20.5" width="41" height="18" rx="2"/><rect class="tag" x="-20.5" width="41" height="13.5" rx="2"/><text class="tl" y="11.3">PRON</text><path class="br" d="M-19.5,19q0,-2.5 3,-2.5H-3q3,0 3,-2.5q0,2.5 3,2.5H16.5q3,0 3,2.5"/><text class="wd" y="35">what</text></g>
<g id="s7-w2" class="tg" transform="translate(102.75,696.5)"><rect class="wb" x="-11" y="20.5" width="22" height="18" rx="2"/><rect class="tag" x="-15.25" width="30.5" height="13.5" rx="2"/><text class="tl" y="11.3">AUX</text><path class="br" d="M-10,19q0,-2.5 3,-2.5H-3q3,0 3,-2.5q0,2.5 3,2.5H7q3,0 3,2.5"/><text class="wd" y="35">do</text></g>
<g id="s7-w3" class="ty" transform="translate(144,696.5)"><rect class="wb" x="-15.5" y="20.5" width="31" height="18" rx="2"/><rect class="tag" x="-20.5" width="41" height="13.5" rx="2"/><text class="tl" y="11.3">PRON</text><path class="br" d="M-14.5,19q0,-2.5 3,-2.5H-3q3,0 3,-2.5q0,2.5 3,2.5H11.5q3,0 3,2.5"/><text class="wd" y="35">you</text></g>
<g id="s7-w4" class="tg" transform="translate(231.25,696.5)"><rect class="wb" x="-21" y="20.5" width="42" height="18" rx="2"/><rect class="tag" x="-20" width="40" height="13.5" rx="2"/><text class="tl" y="11.3">VERB</text><path class="br" d="M-20,19q0,-2.5 3,-2.5H-3q3,0 3,-2.5q0,2.5 3,2.5H17q3,0 3,2.5"/><text class="wd" y="35">think</text></g>
<g id="s7-w5" class="tg" transform="translate(272.25,696.5)"><rect class="wb" x="-7.25" y="20.5" width="14.5" height="18" rx="2"/><rect class="tag" x="-15.25" width="30.5" height="13.5" rx="2"/><text class="tl" y="11.3">AUX</text><path class="br" d="M-6.25,19q0,-2.5 3,-2.5H-3q3,0 3,-2.5q0,2.5 3,2.5H3.25q3,0 3,2.5"/><text class="wd" y="35">is</text></g>
<g id="s7-w6" class="tp" transform="translate(307.75,696.5)"><rect class="wb" x="-14" y="20.5" width="28" height="18" rx="2"/><rect class="tag" x="-14.75" width="29.5" height="13.5" rx="2"/><text class="tl" y="11.3">DET</text><path class="br" d="M-13,19q0,-2.5 3,-2.5H-3q3,0 3,-2.5q0,2.5 3,2.5H10q3,0 3,2.5"/><text class="wd" y="35">the</text></g>
<g id="s7-w7" class="tb" transform="translate(378.75,696.5)"><rect class="wb" x="-35.5" y="20.5" width="71" height="18" rx="2"/><rect class="tag" x="-21.25" width="42.5" height="13.5" rx="2"/><text class="tl" y="11.3">NOUN</text><path class="br" d="M-34.5,19q0,-2.5 3,-2.5H-3q3,0 3,-2.5q0,2.5 3,2.5H31.5q3,0 3,2.5"/><text class="wd" y="35">meaning</text></g>
<g id="s7-w8" class="to" transform="translate(435.25,696.5)"><rect class="wb" x="-8.5" y="20.5" width="17" height="18" rx="2"/><rect class="tag" x="-15.25" width="30.5" height="13.5" rx="2"/><text class="tl" y="11.3">ADP</text><path class="br" d="M-7.5,19q0,-2.5 3,-2.5H-3q3,0 3,-2.5q0,2.5 3,2.5H4.5q3,0 3,2.5"/><text class="wd" y="35">of</text></g>
<g id="s7-w9" class="tb" transform="translate(521,696.5)"><rect class="wb" x="-13" y="20.5" width="26" height="18" rx="2"/><rect class="tag" x="-21.25" width="42.5" height="13.5" rx="2"/><text class="tl" y="11.3">NOUN</text><path class="br" d="M-12,19q0,-2.5 3,-2.5H-3q3,0 3,-2.5q0,2.5 3,2.5H9q3,0 3,2.5"/><text class="wd" y="35">life</text></g>
<g id="s7-w10" class="tk" transform="translate(571.25,696.5)"><rect class="wb" x="-5.5" y="20.5" width="11" height="18" rx="2"/><rect class="tag" x="-23.75" width="47.5" height="13.5" rx="2"/><text class="tl" y="11.3">PUNCT</text><path class="br" d="M-4.5,19q0,-2.5 3,-2.5q1.5,0 1.5,-2.5q0,2.5 1.5,2.5q3,0 3,2.5"/><text class="wd" y="35">?</text></g>

<!-- sentence 8 -->
<g id="s8-w1" class="tb" transform="translate(64.25,790.5)"><rect class="wb" x="-23.5" y="20.5" width="47" height="18" rx="2"/><rect class="tag" x="-21.25" width="42.5" height="13.5" rx="2"/><text class="tl" y="11.3">NOUN</text><path class="br" d="M-22.5,19q0,-2.5 3,-2.5H-3q3,0 3,-2.5q0,2.5 3,2.5H19.5q3,0 3,2.5"/><text class="wd" y="35">today</text></g>
<g id="s8-w2" class="tg" transform="translate(107.5,790.5)"><rect class="wb" x="-16.5" y="20.5" width="33" height="18" rx="2"/><rect class="tag" x="-15.25" width="30.5" height="13.5" rx="2"/><text class="tl" y="11.3">AUX</text><path class="br" d="M-15.5,19q0,-2.5 3,-2.5H-3q3,0 3,-2.5q0,2.5 3,2.5H12.5q3,0 3,2.5"/><text class="wd" y="35">was</text></g>
<g id="s8-w3" class="tp" transform="translate(143,790.5)"><rect class="wb" x="-5.5" y="20.5" width="11" height="18" rx="2"/><rect class="tag" x="-14.75" width="29.5" height="13.5" rx="2"/><text class="tl" y="11.3">DET</text><path class="br" d="M-4.5,19q0,-2.5 3,-2.5q1.5,0 1.5,-2.5q0,2.5 1.5,2.5q3,0 3,2.5"/><text class="wd" y="35">a</text></g>
<g id="s8-w4" class="ty" transform="translate(181.75,790.5)"><rect class="wb" x="-18.5" y="20.5" width="37" height="18" rx="2"/><rect class="tag" x="-15.5" width="31" height="13.5" rx="2"/><text class="tl" y="11.3">ADV</text><path class="br" d="M-17.5,19q0,-2.5 3,-2.5H-3q3,0 3,-2.5q0,2.5 3,2.5H14.5q3,0 3,2.5"/><text class="wd" y="35">very</text></g>
<g id="s8-w5" class="ty" transform="translate(271.5,790.5)"><rect class="wb" x="-31" y="20.5" width="62" height="18" rx="2"/><rect class="tag" x="-14.75" width="29.5" height="13.5" rx="2"/><text class="tl" y="11.3">ADJ</text><path class="br" d="M-30,19q0,-2.5 3,-2.5H-3q3,0 3,-2.5q0,2.5 3,2.5H27q3,0 3,2.5"/><text class="wd" y="35">strange</text></g>
<g id="s8-w6" class="tb" transform="translate(358.75,790.5)"><rect class="wb" x="-15.5" y="20.5" width="31" height="18" rx="2"/><rect class="tag" x="-21.25" width="42.5" height="13.5" rx="2"/><text class="tl" y="11.3">NOUN</text><path class="br" d="M-14.5,19q0,-2.5 3,-2.5H-3q3,0 3,-2.5q0,2.5 3,2.5H11.5q3,0 3,2.5"/><text class="wd" y="35">day</text></g>
<g id="s8-w7" class="tk" transform="translate(470.75,790.5)"><rect class="wb" x="-4" y="20.5" width="8" height="18" rx="2"/><rect class="tag" x="-23.75" width="47.5" height="13.5" rx="2"/><text class="tl" y="11.3">PUNCT</text><path class="br" d="M-3.5,19q0,-2.5 2,-2.5q1.5,0 1.5,-2.5q0,2.5 1.5,2.5q2,0 2,2.5"/><text class="wd" y="35">.</text></g>

<!-- sentence 9 -->
<g id="s9-w1" class="tp" transform="translate(56.25,873.5)"><rect class="wb" x="-10.5" y="20.5" width="21" height="18" rx="2"/><rect class="tag" x="-14.75" width="29.5" height="13.5" rx="2"/><text class="tl" y="11.3">DET</text><path class="br" d="M-9.5,19q0,-2.5 3,-2.5H-3q3,0 3,-2.5q0,2.5 3,2.5H6.5q3,0 3,2.5"/><text class="wd" y="35">all</text></g>
<g id="s9-w2" class="tp" transform="translate(98.25,873.5)"><rect class="wb" x="-23" y="20.5" width="46" height="18" rx="2"/><rect class="tag" x="-14.75" width="29.5" height="13.5" rx="2"/><text class="tl" y="11.3">DET</text><path class="br" d="M-22,19q0,-2.5 3,-2.5H-3q3,0 3,-2.5q0,2.5 3,2.5H19q3,0 3,2.5"/><text class="wd" y="35">these</text></g>
<g id="s9-w3" class="tb" transform="translate(169.5,873.5)"><rect class="wb" x="-37.5" y="20.5" width="75" height="18" rx="2"/><rect class="tag" x="-21.25" width="42.5" height="13.5" rx="2"/><text class="tl" y="11.3">NOUN</text><path class="br" d="M-36.5,19q0,-2.5 3,-2.5H-3q3,0 3,-2.5q0,2.5 3,2.5H33.5q3,0 3,2.5"/><text class="wd" y="35">emotions</text></g>
<g id="s9-w4" class="tg" transform="translate(226.75,873.5)"><rect class="wb" x="-14" y="20.5" width="28" height="18" rx="2"/><rect class="tag" x="-15.25" width="30.5" height="13.5" rx="2"/><text class="tl" y="11.3">AUX</text><path class="br" d="M-13,19q0,-2.5 3,-2.5H-3q3,0 3,-2.5q0,2.5 3,2.5H10q3,0 3,2.5"/><text class="wd" y="35">are</text></g>
<g id="s9-w5" class="ty" transform="translate(262.5,873.5)"><rect class="wb" x="-14" y="20.5" width="28" height="18" rx="2"/><rect class="tag" x="-15.5" width="31" height="13.5" rx="2"/><text class="tl" y="11.3">ADV</text><path class="br" d="M-13,19q0,-2.5 3,-2.5H-3q3,0 3,-2.5q0,2.5 3,2.5H10q3,0 3,2.5"/><text class="wd" y="35">too</text></g>
<g id="s9-w6" class="ty" transform="translate(352.75,873.5)"><rect class="wb" x="-23" y="20.5" width="46" height="18" rx="2"/><rect class="tag" x="-14.75" width="29.5" height="13.5" rx="2"/><text class="tl" y="11.3">ADJ</text><path class="br" d="M-22,19q0,-2.5 3,-2.5H-3q3,0 3,-2.5q0,2.5 3,2.5H19q3,0 3,2.5"/><text class="wd" y="35">much</text></g>
<g id="s9-w7" class="ty" transform="translate(442,873.5)"><rect class="wb" x="-44" y="20.5" width="88" height="18" rx="2"/><rect class="tag" x="-15.5" width="31" height="13.5" rx="2"/><text class="tl" y="11.3">ADV</text><path class="br" d="M-43,19q0,-2.5 3,-2.5H-3q3,0 3,-2.5q0,2.5 3,2.5H40q3,0 3,2.5"/><text class="wd" y="35">sometimes</text></g>
<g id="s9-w8" class="tk" transform="translate(514.25,873.5)"><rect class="wb" x="-4" y="20.5" width="8" height="18" rx="2"/><rect class="tag" x="-23.75" width="47.5" height="13.5" rx="2"/><text class="tl" y="11.3">PUNCT</text><path class="br" d="M-3.5,19q0,-2.5 2,-2.5q1.5,0 1.5,-2.5q0,2.5 1.5,2.5q2,0 2,2.5"/><text class="wd" y="35">.</text></g>

<!-- sentence 10 -->
<g id="s10-w1" class="ty" transform="translate(83.75,956.5)"><rect class="wb" x="-42.5" y="20.5" width="85" height="18" rx="2"/><rect class="tag" x="-20.5" width="41" height="13.5" rx="2"/><text class="tl" y="11.3">PRON</text><path class="br" d="M-41.5,19q0,-2.5 3,-2.5H-3q3,0 3,-2.5q0,2.5 3,2.5H38.5q3,0 3,2.5"/><text class="wd" y="35">everybody</text></g>
<g id="s10-w2" class="tg" transform="translate(147,956.5)"><rect class="wb" x="-7.25" y="20.5" width="14.5" height="18" rx="2"/><rect class="tag" x="-15.25" width="30.5" height="13.5" rx="2"/><text class="tl" y="11.3">AUX</text><path class="br" d="M-6.25,19q0,-2.5 3,-2.5H-3q3,0 3,-2.5q0,2.5 3,2.5H3.25q3,0 3,2.5"/><text class="wd" y="35">is</text></g>
<g id="s10-w3" class="tg" transform="translate(219,956.5)"><rect class="wb" x="-23" y="20.5" width="46" height="18" rx="2"/><rect class="tag" x="-20" width="40" height="13.5" rx="2"/><text class="tl" y="11.3">VERB</text><path class="br" d="M-22,19q0,-2.5 3,-2.5H-3q3,0 3,-2.5q0,2.5 3,2.5H19q3,0 3,2.5"/><text class="wd" y="35">going</text></g>
<g id="s10-w4" class="tt" transform="translate(265.25,956.5)"><rect class="wb" x="-9" y="20.5" width="18" height="18" rx="2"/><rect class="tag" x="-19" width="38" height="13.5" rx="2"/><text class="tl" y="11.3">PART</text><path class="br" d="M-8,19q0,-2.5 3,-2.5H-3q3,0 3,-2.5q0,2.5 3,2.5H5q3,0 3,2.5"/><text class="wd" y="35">to</text></g>
<g id="s10-w5" class="tg" transform="translate(354,956.5)"><rect class="wb" x="-13" y="20.5" width="26" height="18" rx="2"/><rect class="tag" x="-20" width="40" height="13.5" rx="2"/><text class="tl" y="11.3">VERB</text><path class="br" d="M-12,19q0,-2.5 3,-2.5H-3q3,0 3,-2.5q0,2.5 3,2.5H9q3,0 3,2.5"/><text class="wd" y="35">die</text></g>
<g id="s10-w6" class="tk" transform="translate(402.5,956.5)"><rect class="wb" x="-4" y="20.5" width="8" height="18" rx="2"/><rect class="tag" x="-23.75" width="47.5" height="13.5" rx="2"/><text class="tl" y="11.3">PUNCT</text><path class="br" d="M-3.5,19q0,-2.5 2,-2.5q1.5,0 1.5,-2.5q0,2.5 1.5,2.5q2,0 2,2.5"/><text class="wd" y="35">.</text></g>

<g id="line-numbers">
<text class="ln" x="33" y="156">1</text>
<text class="ln" x="33" y="261">2</text>
<text class="ln" x="33" y="344">3</text>
<text class="ln" x="33" y="449">4</text>
<text class="ln" x="33" y="555">5</text>
<text class="ln" x="33" y="638">6</text>
<text class="ln" x="33" y="731.5">7</text>
<text class="ln" x="33" y="825.5">8</text>
<text class="ln" x="33" y="908.5">9</text>
<text class="ln" x="33" y="991.5">10</text>
</g>
<line x1="36" y1="42" x2="36" y2="996" stroke="#b4b4b4" stroke-width="2"/>
<rect x="10.5" y="41.5" width="830" height="954.5" fill="none" stroke="#8aa8ee" stroke-width="1"/>
</svg>
